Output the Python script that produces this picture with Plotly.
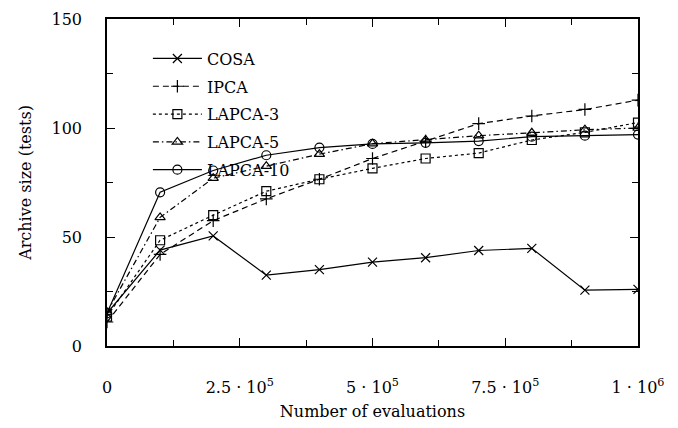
import plotly.graph_objects as go

evals = [0, 1e5, 2e5, 3e5, 4e5, 5e5, 6e5, 7e5, 8e5, 9e5, 1e6]
cosa = [15, 44, 50.5, 32.5, 35, 38.5, 40.5, 43.8, 44.8, 25.6, 26]
ipca = [11, 42, 57.5, 67.5, 76.5, 86, 94, 102, 105.5, 108.5, 112.8]
lapca3 = [13.5, 48.5, 60, 71, 76.5, 81.5, 86, 88.5, 94.5, 98, 102.5]
lapca5 = [15.5, 59, 77, 82.5, 88, 92.8, 94.5, 96.5, 97.8, 99.2, 100]
lapca10 = [15, 70.5, 80.5, 87.5, 91, 92.7, 93.2, 94, 96, 96.5, 97]

series_names = ["COSA", "IPCA", "LAPCA-3", "LAPCA-5", "LAPCA-10"]
series_vals = [cosa, ipca, lapca3, lapca5, lapca10]
dashes = ["solid", "6px,4px", "dot", "6px,3px,1.5px,3px", "solid"]
symbols = ["x-thin-open", "cross-thin-open", "square-open", "triangle-up-open", "circle-open"]

x_tickvals = [0, 2.5e5, 5e5, 7.5e5, 1e6]
x_ticktext = ["0", "2.5 · 10<sup>5</sup>", "5 · 10<sup>5</sup>", "7.5 · 10<sup>5</sup>", "1 · 10<sup>6</sup>"]
y_tickvals = [0, 50, 100, 150]

FONT = "'DejaVu Serif', serif"
FS = 16

fig = go.Figure()
for i, (name, vals, dash, sym) in enumerate(zip(series_names, series_vals, dashes, symbols)):
    fig.add_trace(go.Scatter(
        x=evals, y=vals, name=name, mode="lines+markers",
        legendgroup=name,
        line=dict(color="black", width=1.2, dash=dash),
        marker=dict(symbol=sym, size=9, color="black", line=dict(color="black", width=1.2)),
    ))

axis_common = dict(
    showline=True, linecolor="black", linewidth=1.5, mirror="ticks",
    ticks="inside", tickcolor="black", ticklen=8, tickwidth=1.2,
    showgrid=False, zeroline=False, automargin=False,
    tickfont=dict(family=FONT, size=FS, color="black"),
)

fig.update_layout(
    width=678, height=428,
    margin=dict(l=99, r=48, t=11, b=90),
    paper_bgcolor="white", plot_bgcolor="white",
    font=dict(family=FONT, size=FS, color="black"),
    showlegend=True,
    legend=dict(
        x=0.077, y=0.931, xanchor="left", yanchor="top",
        bgcolor="rgba(0,0,0,0)", tracegroupgap=4,
        font=dict(family=FONT, size=FS, color="black"),
        itemwidth=49,
    ),
    xaxis=dict(
        range=[0, 1e6], tickvals=x_tickvals, ticktext=x_ticktext,
        minor=dict(dtick=1.25e5, tick0=0, ticks="inside", ticklen=6, tickcolor="black", tickwidth=1.2),
        ticklabelstandoff=26,
        title=dict(text="Number of evaluations", standoff=10, font=dict(family=FONT, size=FS)),
        **axis_common,
    ),
    yaxis=dict(
        range=[0, 150], tickvals=y_tickvals,
        minor=dict(dtick=25, tick0=0, ticks="inside", ticklen=6, tickcolor="black", tickwidth=1.2),
        ticklabelstandoff=20,
        title=dict(text="Archive size (tests)", standoff=16, font=dict(family=FONT, size=FS)),
        **axis_common,
    ),
)

fig.write_html("out.html")
